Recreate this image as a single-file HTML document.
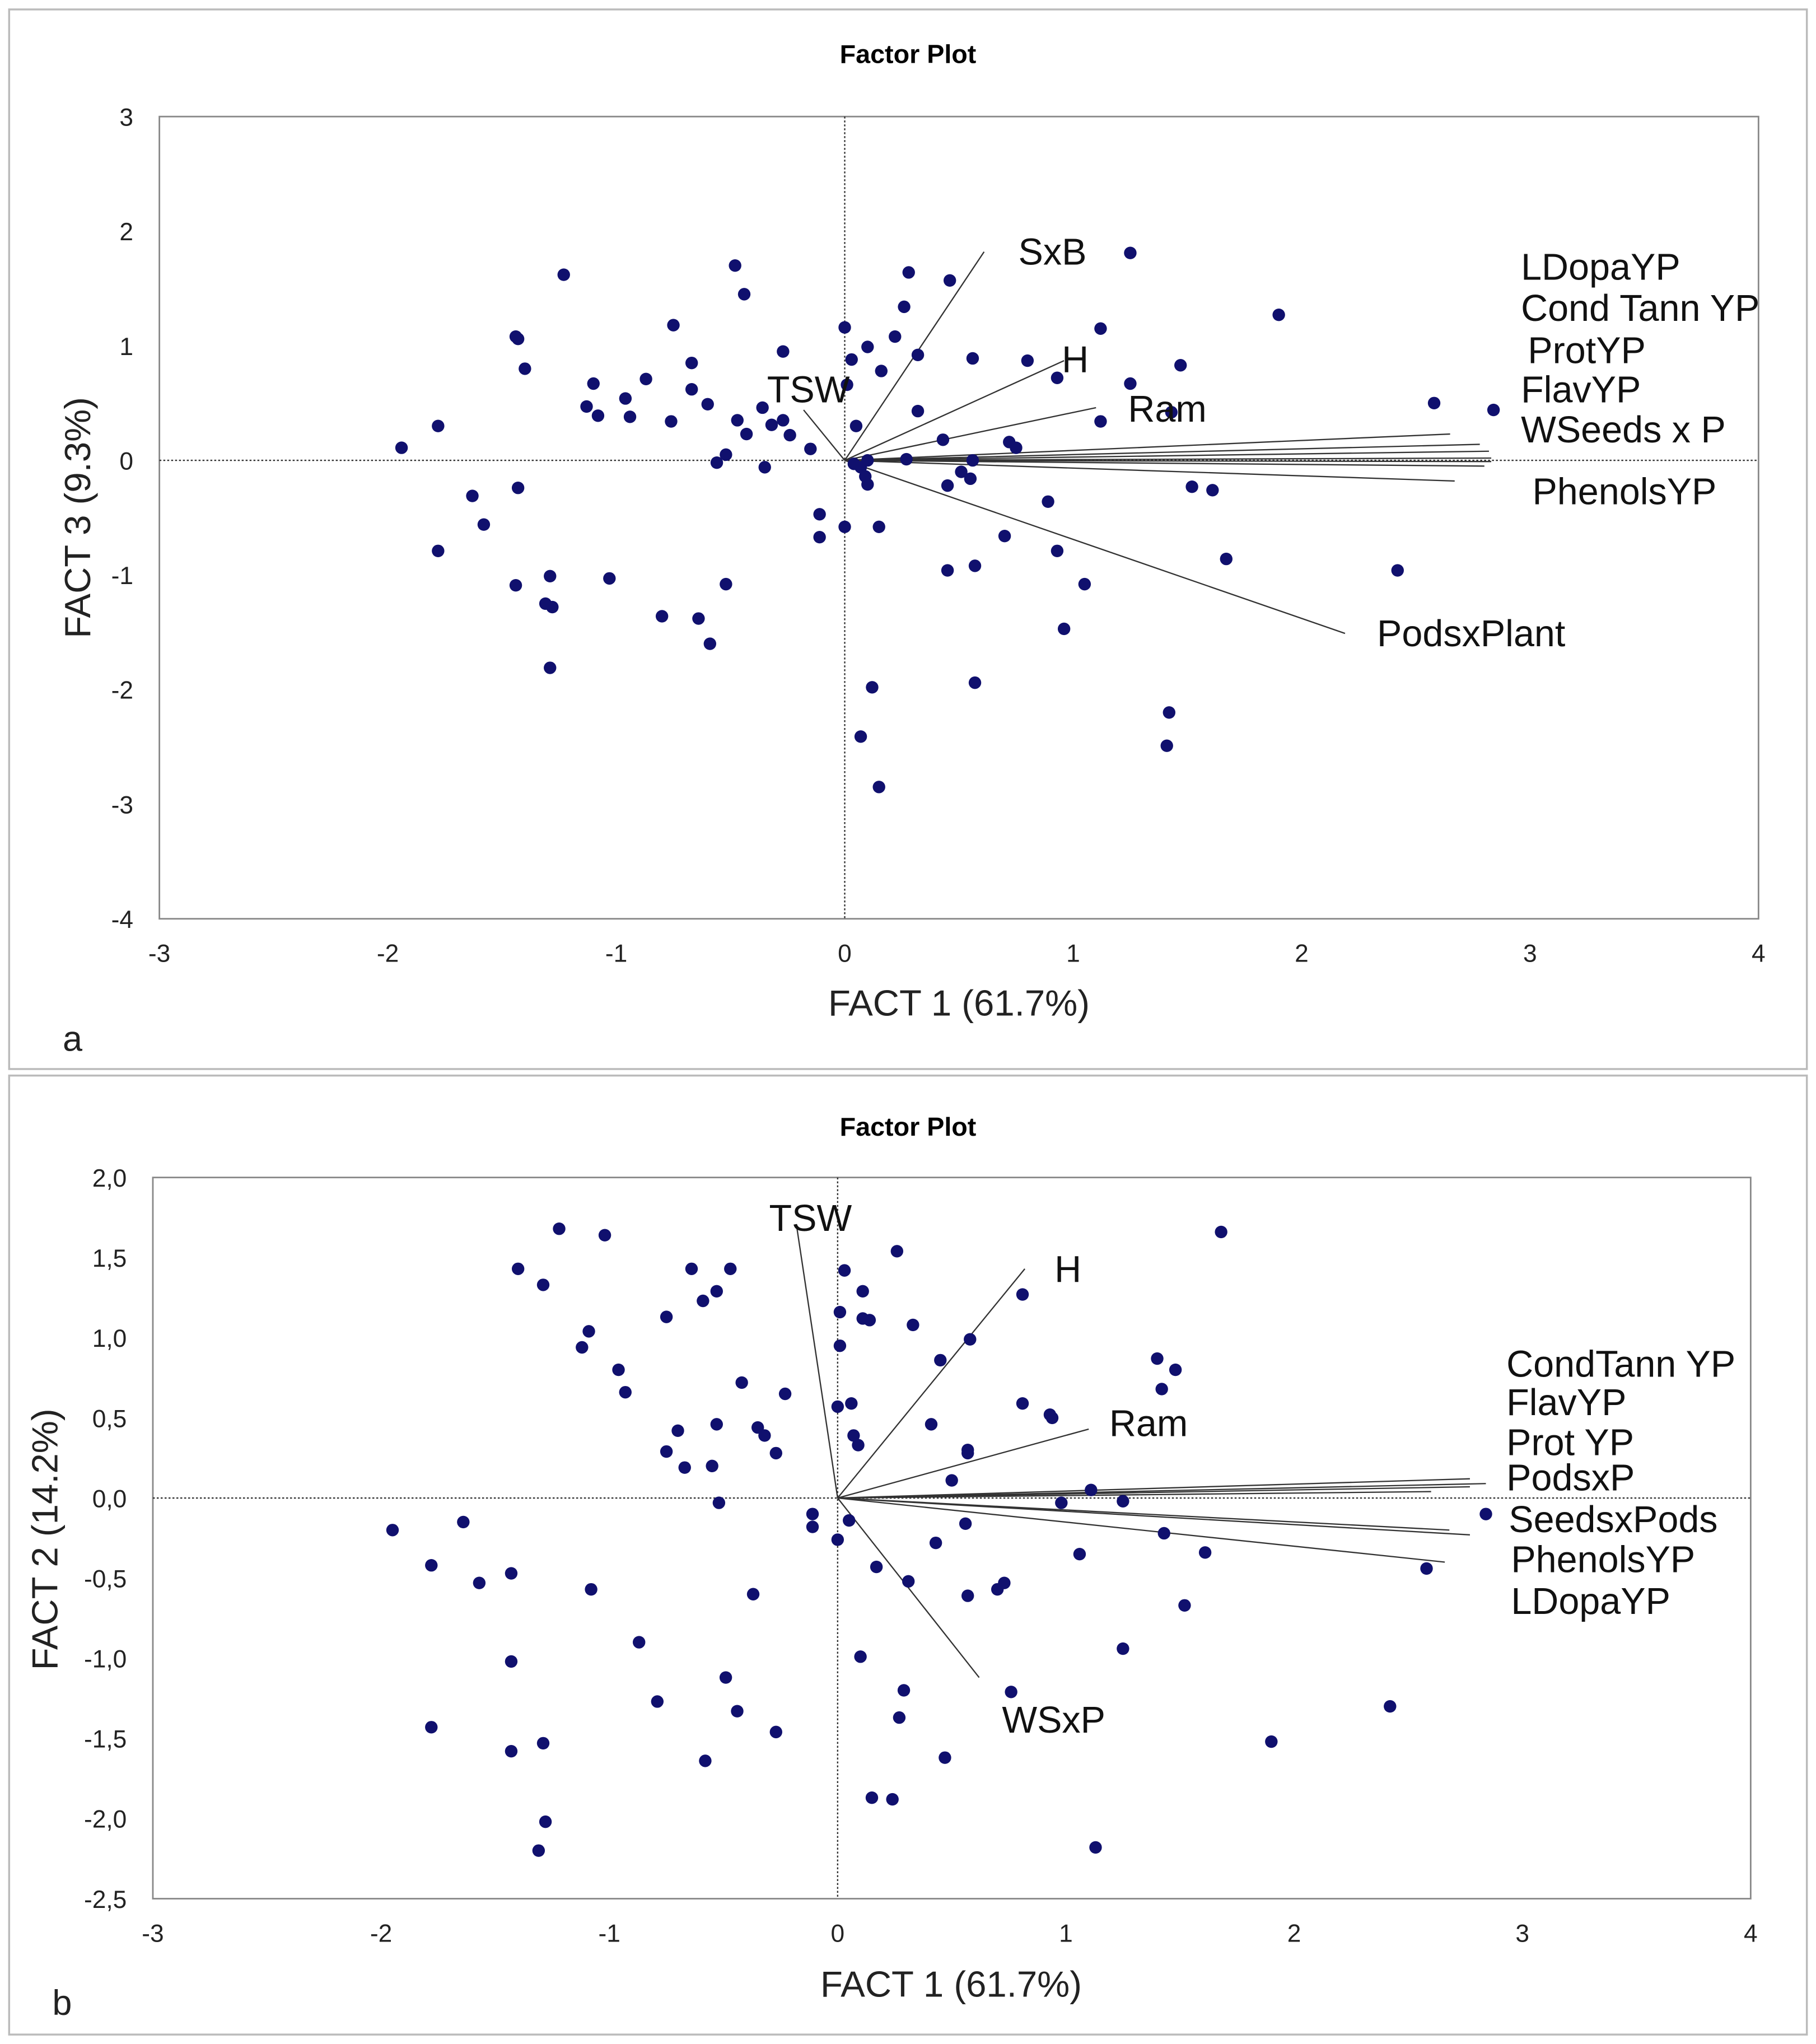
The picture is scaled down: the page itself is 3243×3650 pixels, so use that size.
<!DOCTYPE html>
<html><head><meta charset="utf-8"><style>
html,body{margin:0;padding:0;background:#fff;}
svg{display:block;font-family:"Liberation Sans",Arial,sans-serif;}
</style></head><body>
<svg id="chart" width="3243" height="3650" viewBox="0 0 1390 1564" xmlns="http://www.w3.org/2000/svg">
<rect x="7" y="7" width="1376" height="811" fill="#fff" stroke="#bbb" stroke-width="1.5"/>
<rect x="7" y="823" width="1376" height="734" fill="#fff" stroke="#bbb" stroke-width="1.5"/>
<g id="pa"></g>
<g id="pb"></g>
</svg>
<script>
const NS="http://www.w3.org/2000/svg";
// Panel a data
const aXTicks=[-3,-2,-1,0,1,2,3,4];
const aYTicks=[3,2,1,0,-1,-2,-3,-4];
const aPtsX=[-1.94,-1.78,-1.78,-1.63,-1.58,-1.44,-1.43,-1.40,-1.43,-1.44,-1.29,-1.29,-1.31,-1.28,-1.23,-1.10,-1.08,-1.13,-1.03,-0.96,-0.94,-0.87,-0.80,-0.76,-0.75,-0.67,-0.67,-0.64,-0.60,-0.59,-0.56,-0.52,-0.52,-0.48,-0.47,-0.44,-0.43,-0.36,-0.35,-0.32,-0.27,-0.27,-0.24,-0.15,-0.11,-0.11,0.00,0.00,0.03,0.01,0.04,0.05,0.07,0.09,0.10,0.10,0.10,0.15,0.16,0.26,0.22,0.28,0.27,0.32,0.32,0.43,0.45,0.51,0.46,0.56,0.55,0.56,0.57,0.57,0.70,0.72,0.75,0.80,0.89,0.93,0.93,0.96,1.05,1.12,1.25,1.12,1.25,1.43,1.47,1.52,1.61,1.67,1.90,2.42,2.58,2.84,1.42,1.41,0.12,0.07,0.15,0.45];
const aPtsY=[0.11,0.30,-0.79,-0.31,-0.56,1.08,1.06,0.80,-0.24,-1.09,-1.01,-1.81,-1.25,-1.28,1.62,0.67,0.39,0.47,-1.03,0.54,0.38,0.71,-1.36,0.34,1.18,0.85,0.62,-1.38,0.49,-1.60,-0.02,0.05,-1.08,1.70,0.35,1.45,0.23,0.46,-0.06,0.31,0.35,0.95,0.22,0.10,-0.47,-0.67,1.16,-0.58,0.88,0.66,-0.03,0.30,-0.06,-0.14,-0.21,0.00,0.99,-0.58,0.78,1.34,1.08,1.64,0.01,0.92,0.43,0.18,-0.96,-0.10,1.57,0.00,-0.16,0.89,-0.92,-1.94,-0.66,0.16,0.11,0.87,-0.36,0.72,-0.79,-1.47,-1.08,0.34,1.81,1.15,0.67,0.42,0.83,-0.23,-0.26,-0.86,1.27,-0.96,0.50,0.44,-2.20,-2.49,-1.98,-2.41,-2.85,-0.22];
const aVecX=[0.61,0.96,1.10,-0.18,2.19,2.65,2.78,2.82,2.83,2.83,2.80,2.67];
const aVecY=[1.82,0.87,0.46,0.44,-1.51,0.23,0.14,0.08,0.02,-0.01,-0.05,-0.18];
const aLabels=["SxB","H","Ram","TSW","PodsxPlant","LDopaYP","Cond Tann YP","ProtYP","FlavYP","WSeeds x P","PhenolsYP"];
const aLabX=[0.76,0.95,1.24,-0.34,2.33,2.96,2.96,2.99,2.96,2.96,3.01];
const aLabY=[1.81,0.87,0.44,0.61,-1.52,1.68,1.32,0.95,0.61,0.26,-0.28];
// Panel b data
const bXTicks=[-3,-2,-1,0,1,2,3,4];
const bYTicks=[2.0,1.5,1.0,0.5,0.0,-0.5,-1.0,-1.5,-2.0,-2.5];
const bYTickLabels=["2,0","1,5","1,0","0,5","0,0","-0,5","-1,0","-1,5","-2,0","-2,5"];
const bPtsX=[-1.95,-1.78,-1.64,-1.57,-1.78,-1.43,-1.43,-1.40,-1.43,-1.29,-1.29,-1.28,-1.31,-1.22,-1.12,-1.09,-1.08,-1.02,-0.96,-0.93,-0.87,-0.79,-0.75,-0.75,-0.70,-0.67,-0.64,-0.59,-0.58,-0.55,-0.53,-0.53,-0.52,-0.49,-0.47,-0.44,-0.42,-0.37,-0.35,-0.32,-0.27,-0.27,-0.23,-0.11,-0.11,0.00,0.00,0.01,0.01,0.03,0.05,0.06,0.07,0.09,0.10,0.11,0.11,0.14,0.15,0.17,0.24,0.26,0.27,0.29,0.31,0.33,0.41,0.43,0.45,0.47,0.50,0.56,0.57,0.57,0.58,0.57,0.70,0.73,0.76,0.81,0.81,0.93,0.94,0.98,1.06,1.11,1.13,1.25,1.25,1.40,1.42,1.43,1.48,1.52,1.61,1.68,1.90,2.42,2.58,2.84];
const bPtsY=[-0.20,-0.42,-0.15,-0.53,-1.43,-0.47,-1.02,1.43,-1.58,1.33,-1.53,-2.02,-2.20,1.68,0.94,1.04,-0.57,1.64,0.80,0.66,-0.90,-1.27,1.13,0.29,0.42,0.19,1.43,1.23,-1.64,0.20,1.29,0.46,-0.03,-1.12,1.43,-1.33,0.72,-0.60,0.44,0.39,-1.46,0.28,0.65,-0.10,-0.18,-0.26,0.57,1.16,0.95,1.42,-0.14,0.59,0.39,0.33,-0.99,1.29,1.12,1.11,-1.87,-0.43,-1.88,1.54,-1.37,-1.20,-0.52,1.08,0.46,-0.28,0.86,-1.62,0.11,-0.16,0.28,0.30,0.99,-0.61,-0.57,-0.53,-1.21,1.27,0.59,0.52,0.50,-0.03,-0.35,0.05,-2.18,-0.94,-0.02,0.87,0.68,-0.22,0.80,-0.67,-0.34,1.66,-1.52,-1.30,-0.44,-0.10];
const bVecX=[-0.18,0.82,1.10,0.62,2.77,2.84,2.77,2.60,2.68,2.77,2.66];
const bVecY=[1.70,1.43,0.43,-1.12,0.12,0.09,0.07,0.04,-0.20,-0.23,-0.40];
const bLabels=["TSW","H","Ram","WSxP","CondTann YP","FlavYP","Prot YP","PodsxP","SeedsxPods","PhenolsYP","LDopaYP"];
const bLabX=[-0.30,0.95,1.19,0.72,2.93,2.93,2.93,2.93,2.94,2.95,2.95];
const bLabY=[1.74,1.42,0.46,-1.39,0.83,0.59,0.34,0.12,-0.14,-0.39,-0.65];

function el(p,tag,attrs){const e=document.createElementNS(NS,tag);for(const k in attrs)e.setAttribute(k,attrs[k]);p.appendChild(e);return e;}

function panel(g,cfg){
  const sx=v=>cfg.x0+(v-cfg.xmin)/(cfg.xmax-cfg.xmin)*(cfg.x1-cfg.x0);
  const sy=v=>cfg.y0+(cfg.ymax-v)/(cfg.ymax-cfg.ymin)*(cfg.y1-cfg.y0);
  const t=el(g,'text',{x:695,y:cfg.titleY,'text-anchor':'middle','font-size':20,'font-weight':'bold',fill:'#000'});
  t.textContent='Factor Plot';
  
  
  const pa=el(g,'rect',{x:cfg.x0,y:cfg.y0,width:cfg.x1-cfg.x0,height:cfg.y1-cfg.y0,fill:'none',stroke:'#888','stroke-width':1.2});
  
  
  const zx=el(g,'line',{x1:sx(0),x2:sx(0),y1:cfg.y0,y2:cfg.y1,stroke:'#333','stroke-width':1,'stroke-dasharray':'1.5,1.5'});
  
  
  const zy=el(g,'line',{x1:cfg.x0,x2:cfg.x1,y1:sy(0),y2:sy(0),stroke:'#333','stroke-width':1,'stroke-dasharray':'1.5,1.5'});
  
  
  cfg.xt.forEach(v=>{
    const l=el(g,'text',{x:sx(v),y:cfg.y1+33,'text-anchor':'middle','font-size':19,fill:'#222'});
    l.textContent=String(v);
    
    
  });
  cfg.yt.forEach((v,i)=>{
    const l=el(g,'text',{x:cfg.x0-20,y:sy(v)+7,'text-anchor':'end','font-size':19,fill:'#222'});
    l.textContent=cfg.ytl?cfg.ytl[i]:String(v);
    
    
  });
  const xt=el(g,'text',{x:cfg.xtX,y:cfg.xtY,'text-anchor':'middle','font-size':28,fill:'#222'});
  xt.textContent='FACT 1 (61.7%)';
  
  
  const yt=el(g,'text',{x:0,y:0,transform:`translate(${cfg.ytX},${cfg.ytY}) rotate(-90)`,'text-anchor':'middle','font-size':28,fill:'#222'});
  yt.textContent=cfg.ytitle;
  
  
  const pl=el(g,'text',{x:cfg.plX,y:cfg.plY,'font-size':27,fill:'#222'});
  pl.textContent=cfg.plabel;
  
  
  cfg.vx.forEach((v,i)=>{
    const l=el(g,'line',{x1:sx(0),y1:sy(0),x2:sx(v),y2:sy(cfg.vy[i]),stroke:'#333','stroke-width':1});
    
    
  });
  cfg.px.forEach((v,i)=>{
    const c=el(g,'circle',{cx:sx(v),cy:sy(cfg.py[i]),r:4.8,fill:'#10106e'});
    
    
  });
  cfg.lab.forEach((s,i)=>{
    const l=el(g,'text',{x:sx(cfg.lx[i]),y:sy(cfg.ly[i])+9,'font-size':28.5,fill:'#111'});
    l.textContent=s;
    
    
  });
}
panel(document.getElementById('pa'),{x0:122,x1:1346,y0:89,y1:703,xmin:-3,xmax:4,ymin:-4,ymax:3,titleY:48,
  xt:aXTicks,yt:aYTicks,xtX:734,xtY:777,ytX:69,ytY:396,ytitle:'FACT 3 (9.3%)',plX:48,plY:804,plabel:'a',
  vx:aVecX,vy:aVecY,px:aPtsX,py:aPtsY,lab:aLabels,lx:aLabX,ly:aLabY});
panel(document.getElementById('pb'),{x0:117,x1:1340,y0:901,y1:1453,xmin:-3,xmax:4,ymin:-2.5,ymax:2.0,titleY:869,
  xt:bXTicks,yt:bYTicks,ytl:bYTickLabels,xtX:728,xtY:1528,ytX:44,ytY:1178,ytitle:'FACT 2 (14.2%)',plX:40,plY:1542,plabel:'b',
  vx:bVecX,vy:bVecY,px:bPtsX,py:bPtsY,lab:bLabels,lx:bLabX,ly:bLabY});
</script>
</body></html>
